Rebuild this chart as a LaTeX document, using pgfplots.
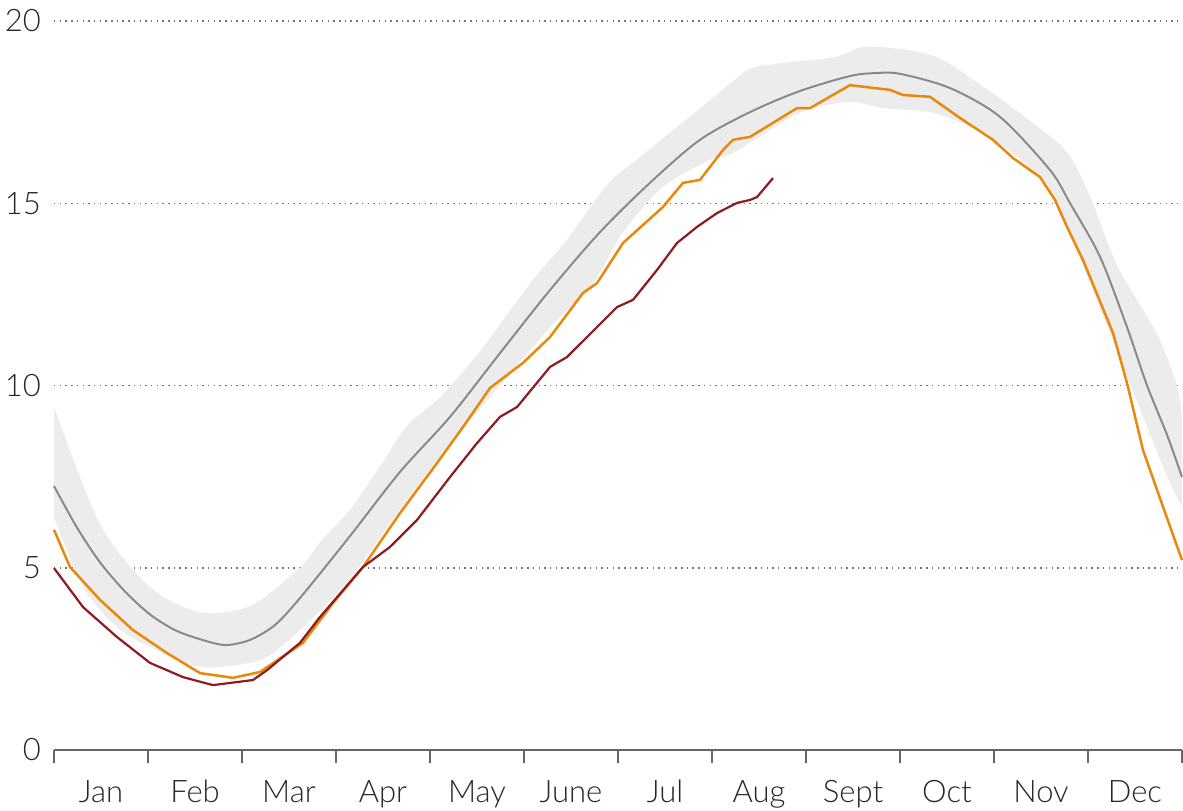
\documentclass[border=0pt]{standalone}
\usepackage{fontspec}
\setmainfont{Lato}[UprightFont=* Light]
\usepackage{pgfplots}
\pgfplotsset{compat=1.18}
\usepgfplotslibrary{fillbetween}
\definecolor{bandc}{HTML}{ECECEC}
\definecolor{meanc}{HTML}{8A8A8A}
\definecolor{orangec}{HTML}{E8890C}
\definecolor{redc}{HTML}{8E1B1F}
\definecolor{axc}{HTML}{666666}
\begin{document}
\begin{tikzpicture}
\begin{axis}[
  name=ax,
  scale only axis,
  width=564pt, height=364.5pt,
  xmin=0, xmax=12, ymin=0, ymax=20,
  axis x line*=bottom, axis y line*=left,
  y axis line style={draw=none},
  x axis line style={-, draw=axc, line width=0.8pt},
  xtick={0,...,12},
  xticklabels={Jan,Feb,Mar,Apr,May,June,Jul,Aug,Sept,Oct,Nov,Dec},
  x tick label as interval,
  tick align=outside,
  major tick length=6.5pt,
  xtick style={draw=axc, line width=0.8pt},
  ytick={0,5,10,15,20},
  ytick style={draw=none},
  ymajorgrids,
  grid style={draw=black!55, line width=0.75pt, dash pattern=on 0.75pt off 2.1pt},
  /pgf/number format/assume math mode=true,
  ticklabel style={font=\fontsize{15.5}{18}\selectfont, text=black!85},
  yticklabel style={xshift=3.5pt},
  xticklabel style={yshift=-5pt},
  clip=false,
]
\addplot[name path=up, draw=none, smooth] coordinates {
(0,9.41) (0.489,6.2) (1.021,4.47) (1.553,3.78) (2.085,3.95) (2.617,5.0) (2.830,5.7) (3.149,6.6) (3.500,7.9) (3.755,8.9) (4.074,9.6) (4.394,10.5) (4.638,11.3) (5.096,12.9) (5.457,14.0) (5.883,15.5) (6.202,16.2) (6.872,17.6) (7.223,18.35) (7.479,18.75) (8.287,19.0) (8.649,19.3) (9.351,19.05) (9.883,18.2) (10.415,17.2) (10.777,16.4) (11.021,15.2) (11.309,13.3) (11.734,11.4) (11.947,10.0) (12.0,9.1)
};
\addplot[name path=lo, draw=none, smooth] coordinates {
(0,6.39) (0.309,4.47) (0.670,3.37) (1.021,2.83) (1.553,2.28) (2.191,2.47) (2.617,3.29) (3.149,4.7) (3.681,6.6) (4.213,8.4) (4.745,10.0) (5.277,11.6) (5.734,12.8) (6.053,14.2) (6.479,15.45) (6.979,16.19) (7.223,16.38) (7.936,17.48) (8.468,17.78) (8.819,17.61) (9.351,17.48) (9.883,16.93) (10.415,15.91) (10.649,15.09) (11.234,11.44) (11.798,7.76) (12.0,6.67)
};
\addplot[fill=bandc, draw=none] fill between[of=up and lo];
\addplot[meanc, line width=1pt, smooth] coordinates {
(0,7.24) (0.245,6.10) (0.489,5.15) (0.755,4.35) (1.021,3.72) (1.287,3.29) (1.553,3.04) (1.819,2.88) (2.085,3.02) (2.351,3.43) (2.617,4.17) (3.149,5.87) (3.681,7.63) (4.213,9.14) (4.745,10.89) (5.277,12.62) (5.809,14.21) (6.340,15.56) (6.872,16.74) (7.404,17.50) (7.936,18.08) (8.468,18.49) (8.734,18.57) (9.0,18.55) (9.532,18.16) (10.064,17.37) (10.596,15.91) (10.809,15.0) (11.128,13.53) (11.415,11.6) (11.628,10.0) (11.840,8.65) (12.0,7.49)
};
\addplot[orangec, line width=1.25pt] coordinates {
(0,6.04) (0.170,5.02) (0.489,4.12) (0.840,3.29) (1.202,2.66) (1.553,2.11) (1.904,1.98) (2.191,2.14) (2.649,2.94) (2.968,4.03) (3.287,5.02) (3.681,6.50) (4.074,7.87) (4.351,8.86) (4.638,9.93) (4.989,10.62) (5.277,11.33) (5.628,12.54) (5.777,12.81) (6.053,13.91) (6.479,14.90) (6.691,15.56) (6.872,15.64) (7.117,16.46) (7.223,16.74) (7.404,16.82) (7.904,17.61) (8.043,17.61) (8.468,18.24) (8.894,18.11) (9.032,17.97) (9.319,17.92) (9.638,17.34) (9.989,16.74) (10.202,16.24) (10.489,15.72) (10.649,15.09) (10.777,14.35) (10.947,13.44) (11.266,11.44) (11.415,10.07) (11.585,8.23) (11.798,6.67) (12.0,5.21)
};
\addplot[redc, line width=1.1pt] coordinates {
(0,4.99) (0.309,3.92) (0.670,3.10) (1.021,2.39) (1.372,2.00) (1.691,1.78) (2.117,1.92) (2.266,2.19) (2.617,2.94) (2.830,3.65) (3.287,5.02) (3.574,5.57) (3.862,6.31) (4.213,7.49) (4.500,8.42) (4.745,9.14) (4.926,9.41) (5.277,10.51) (5.457,10.78) (5.989,12.15) (6.160,12.35) (6.415,13.17) (6.628,13.91) (6.840,14.35) (7.053,14.73) (7.266,15.01) (7.404,15.09) (7.479,15.17) (7.649,15.69)
};
\end{axis}
\pgfresetboundingbox
\path ([shift={(-27pt,-30pt)}]ax.south west) rectangle ([shift={(0.5pt,10.5pt)}]ax.north east);
\end{tikzpicture}
\end{document}
